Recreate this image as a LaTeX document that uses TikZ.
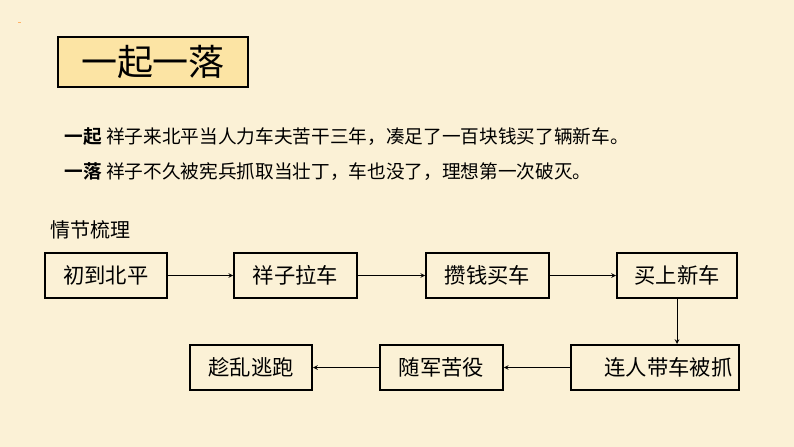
\documentclass[tikz,border=0pt]{standalone}
\usepackage{fontspec}
\newfontfamily\cjk{Noto Sans CJK SC}
\newfontfamily\cjkb{Noto Sans CJK SC Bold}
\begin{document}
\begin{tikzpicture}[x=0.75pt,y=-0.75pt,font=\cjk,
  box/.style={draw,line width=1.5pt,minimum height=33.75pt,inner sep=0pt,font=\cjk\fontsize{16}{19}\selectfont},
  arr/.style={->,>=stealth,line width=0.6pt}]
\fill[fill={rgb,255:red,251;green,241;blue,214}] (0,0) rectangle (794,447);
\useasboundingbox (0,0) rectangle (794,447);
\draw[orange!60,line width=0.6pt] (18,22) -- (21,22);
\node[draw,line width=1pt,fill={rgb,255:red,252;green,228;blue,164},minimum width=142.5pt,minimum height=37.5pt,font=\cjk\fontsize{27}{30}\selectfont] (t) at (153,62) {一起一落};
\node[anchor=west,font=\cjk\fontsize{14}{17}\selectfont] (l1) at (60,137) {{\cjkb 一起} 祥子来北平当人力车夫苦干三年，凑足了一百块钱买了辆新车。};
\node[anchor=west,font=\cjk\fontsize{14}{17}\selectfont] (l2) at (60,172) {{\cjkb 一落} 祥子不久被宪兵抓取当壮丁，车也没了，理想第一次破灭。};
\node[anchor=west,font=\cjk\fontsize{15}{18}\selectfont] (h) at (46,230) {情节梳理};
\node[box,minimum width=91.5pt] (a) at (106,275.5) {初到北平};
\node[box,minimum width=92pt] (b) at (295.5,275.5) {祥子拉车};
\node[box,minimum width=92pt] (c) at (487.5,275.5) {攒钱买车};
\node[box,minimum width=90pt] (d) at (677,275.5) {买上新车};
\node[box,minimum width=126pt] (e) at (655,367.5) {\hspace*{20pt}连人带车被抓};
\node[box,minimum width=92pt] (f) at (441.5,367.5) {随军苦役};
\node[box,minimum width=91.5pt] (g) at (251,367.5) {趁乱逃跑};
\draw[arr] (a) -- (b);
\draw[arr] (b) -- (c);
\draw[arr] (c) -- (d);
\draw[arr] (d) -- (e.north -| d);
\draw[arr] (e) -- (f);
\draw[arr] (f) -- (g);
\end{tikzpicture}
\end{document}
